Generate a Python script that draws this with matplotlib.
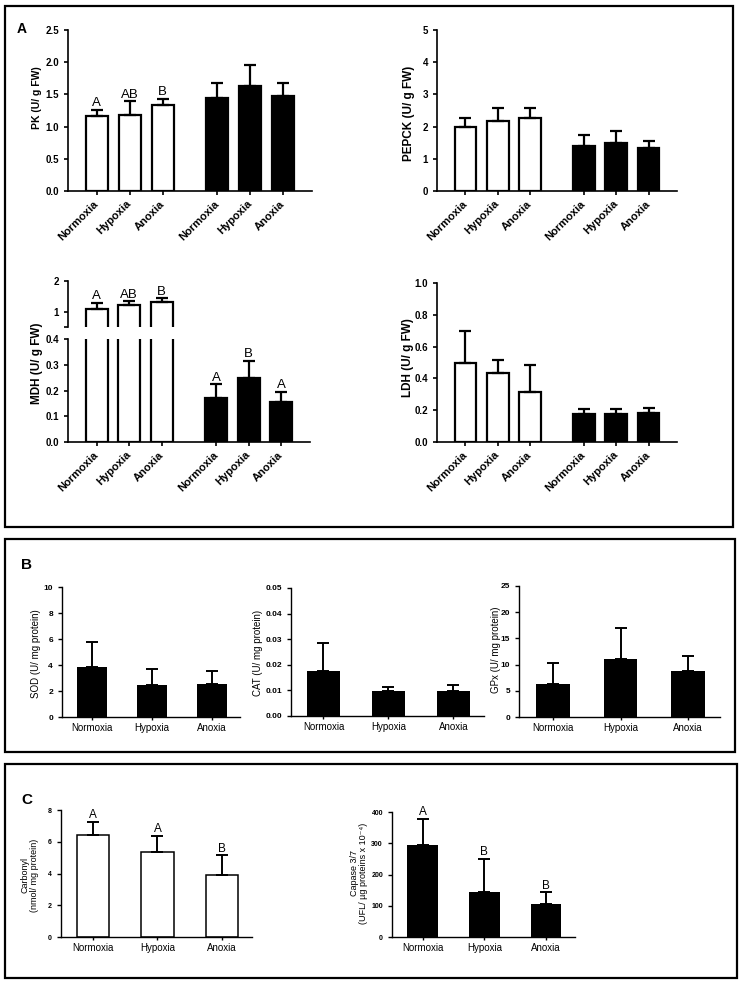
import matplotlib.pyplot as plt
import numpy as np
from matplotlib.patches import Rectangle

plt.rcParams['font.family'] = ['Liberation Sans', 'DejaVu Sans']

W, H = 743, 988

conditions = ['Normoxia', 'Hypoxia', 'Anoxia']

# panel A (white = first group, black = second group)
pk_white = [1.16, 1.18, 1.33]
pk_white_err = [0.10, 0.21, 0.10]
pk_black = [1.45, 1.63, 1.48]
pk_black_err = [0.23, 0.32, 0.20]
pk_letters = ['A', 'AB', 'B', '', '', '']

pepck_white = [1.99, 2.17, 2.28]
pepck_white_err = [0.28, 0.41, 0.30]
pepck_black = [1.40, 1.48, 1.33]
pepck_black_err = [0.35, 0.38, 0.22]

mdh_white = [1.09, 1.21, 1.31]
mdh_white_err = [0.19, 0.13, 0.12]
mdh_black = [0.172, 0.250, 0.157]
mdh_black_err = [0.052, 0.066, 0.038]
mdh_letters = ['A', 'AB', 'B', 'A', 'B', 'A']

ldh_white = [0.498, 0.432, 0.316]
ldh_white_err = [0.198, 0.082, 0.170]
ldh_black = [0.176, 0.176, 0.184]
ldh_black_err = [0.030, 0.030, 0.032]

# panel B
sod = [3.85, 2.47, 2.57]
sod_err = [1.92, 1.26, 0.96]
cat = [0.0176, 0.0097, 0.0097]
cat_err = [0.0111, 0.0017, 0.0026]
gpx = [6.24, 11.0, 8.84]
gpx_err = [4.13, 5.9, 2.8]

# panel C
carbonyl = [6.45, 5.33, 3.88]
carbonyl_err = [0.80, 1.05, 1.27]
carbonyl_letters = ['A', 'A', 'B']
caspase = [294, 143, 107]
caspase_err = [85, 106, 36]
caspase_letters = ['A', 'B', 'B']

fig = plt.figure(figsize=(W / 100, H / 100), dpi=100)


def px_axes(x0, y0, x1, y1):
    return fig.add_axes([x0 / W, 1 - y1 / H, (x1 - x0) / W, (y1 - y0) / H])


def px_text(x, y, s, **kw):
    fig.text(x / W, 1 - y / H, s, **kw)


def style(ax, lw=1.2):
    ax.spines[['top', 'right']].set_visible(False)
    for s in ['left', 'bottom']:
        ax.spines[s].set_linewidth(lw)
    ax.tick_params(direction='out', length=3, width=lw)
    ax.patch.set_alpha(0)


xa = np.array([0, 1, 2, 3.67, 4.67, 5.67])


def bars_a(ax, white, werr, black, berr, letters=None):
    vals = white + black
    errs = werr + berr
    colors = ['white'] * 3 + ['black'] * 3
    ax.bar(xa, vals, width=0.67, color=colors, edgecolor='black', linewidth=1.6)
    ax.errorbar(xa, vals, yerr=[np.zeros(6), errs], fmt='none', ecolor='black',
                elinewidth=1.6, capsize=4.2, capthick=1.6)
    if letters:
        for x, v, e, l in zip(xa, vals, errs, letters):
            ax.annotate(l, (x, v + e), xytext=(0, 0.5), textcoords='offset points',
                        ha='center', va='bottom', fontsize=9.5)
    ax.set_xlim(-0.88, 6.55)


def xlabels_a(ax):
    ax.set_xticks(xa)
    ax.set_xticklabels(conditions * 2, rotation=45, ha='right', va='center',
                       rotation_mode='anchor', fontsize=8, fontweight='bold')
    ax.tick_params(axis='x', pad=5)


def ylabels_a(ax, ticks, labels):
    ax.set_yticks(ticks)
    ax.set_yticklabels(labels, fontsize=7, fontweight='bold')


# ---- Panel A ----
ax = px_axes(68, 30, 312, 191)
style(ax)
bars_a(ax, pk_white, pk_white_err, pk_black, pk_black_err, pk_letters)
ax.set_ylim(0, 2.5)
ylabels_a(ax, [0, 0.5, 1, 1.5, 2, 2.5], ['0.0', '0.5', '1.0', '1.5', '2.0', '2.5'])
xlabels_a(ax)
px_text(37, 98, 'PK (U/ g FW)', rotation=90, ha='center', va='center', fontsize=7.5, fontweight='bold')

ax = px_axes(437, 30, 677, 191)
style(ax)
bars_a(ax, pepck_white, pepck_white_err, pepck_black, pepck_black_err)
ax.set_ylim(0, 5)
ylabels_a(ax, [0, 1, 2, 3, 4, 5], ['0', '1', '2', '3', '4', '5'])
xlabels_a(ax)
px_text(409, 113, 'PEPCK (U/ g FW)', rotation=90, ha='center', va='center', fontsize=8.5, fontweight='bold')

# MDH broken axis
ax_up = px_axes(68, 281, 310, 327)
style(ax_up)
ax_up.spines['bottom'].set_visible(False)
bars_a(ax_up, mdh_white, mdh_white_err, mdh_black, mdh_black_err, mdh_letters)
ax_up.set_ylim(0.5, 2)
ylabels_a(ax_up, [0.5, 1, 2], ['', '1', '2'])
ax_up.set_xticks([])

ax = px_axes(68, 339, 310, 442)
style(ax)
bars_a(ax, mdh_white, mdh_white_err, mdh_black, mdh_black_err, mdh_letters)
ax.set_ylim(0, 0.4)
ylabels_a(ax, [0, 0.1, 0.2, 0.3, 0.4], ['0.0', '0.1', '0.2', '0.3', '0.4'])
xlabels_a(ax)
px_text(37, 363, 'MDH (U/ g FW)', rotation=90, ha='center', va='center', fontsize=8.5, fontweight='bold')

ax = px_axes(437, 283, 677, 442)
style(ax)
bars_a(ax, ldh_white, ldh_white_err, ldh_black, ldh_black_err)
ax.set_ylim(0, 1.0)
ylabels_a(ax, [0, 0.2, 0.4, 0.6, 0.8, 1.0], ['0.0', '0.2', '0.4', '0.6', '0.8', '1.0'])
xlabels_a(ax)
px_text(408, 358, 'LDH (U/ g FW)', rotation=90, ha='center', va='center', fontsize=8.5, fontweight='bold')


# ---- Panels B and C ----
def bars_simple(ax, vals, errs, color, width, lw, letters=None):
    x = np.arange(3)
    ax.bar(x, vals, width=width, color=color, edgecolor='black', linewidth=lw)
    ax.errorbar(x, vals, yerr=[np.zeros(3), errs], fmt='none', ecolor='black',
                elinewidth=1.4, capsize=4.5, capthick=1.4)
    if letters:
        for xi, v, e, l in zip(x, vals, errs, letters):
            ax.annotate(l, (xi, v + e), xytext=(0, 0.5), textcoords='offset points',
                        ha='center', va='bottom', fontsize=8.5)
    ax.set_xlim(-0.5, 2.47)
    ax.set_xticks(x)
    ax.set_xticklabels(conditions, fontsize=7)
    ax.tick_params(axis='x', length=2.5, pad=2)


ax = px_axes(62, 587, 240, 717)
style(ax, 1.0)
bars_simple(ax, sod, sod_err, 'black', 0.5, 0)
ax.set_ylim(0, 10)
ax.set_yticks([0, 2, 4, 6, 8, 10])
ax.set_yticklabels(['0', '2', '4', '6', '8', '10'], fontsize=6, fontweight='bold')
px_text(36, 654, 'SOD (U/ mg protein)', rotation=90, ha='center', va='center', fontsize=7)

ax = px_axes(291, 588, 484, 716)
style(ax, 1.0)
bars_simple(ax, cat, cat_err, 'black', 0.52, 0)
ax.set_ylim(0, 0.05)
ax.set_yticks([0, 0.01, 0.02, 0.03, 0.04, 0.05])
ax.set_yticklabels(['0.00', '0.01', '0.02', '0.03', '0.04', '0.05'], fontsize=6, fontweight='bold')
px_text(258, 653, 'CAT (U/ mg protein)', rotation=90, ha='center', va='center', fontsize=7)

ax = px_axes(519, 586, 720, 717)
style(ax, 1.0)
bars_simple(ax, gpx, gpx_err, 'black', 0.5, 0)
ax.set_ylim(0, 25)
ax.set_yticks([0, 5, 10, 15, 20, 25])
ax.set_yticklabels(['0', '5', '10', '15', '20', '25'], fontsize=6, fontweight='bold')
px_text(496, 650, 'GPx (U/ mg protein)', rotation=90, ha='center', va='center', fontsize=7)

ax = px_axes(61, 810, 252, 937)
style(ax, 1.0)
bars_simple(ax, carbonyl, carbonyl_err, 'white', 0.5, 1.1, carbonyl_letters)
ax.set_ylim(0, 8)
ax.set_yticks([0, 2, 4, 6, 8])
ax.set_yticklabels(['0', '2', '4', '6', '8'], fontsize=5, fontweight='bold')
px_text(30, 875, 'Carbonyl\n(nmol/ mg protein)', rotation=90, ha='center', va='center',
        fontsize=6.5, linespacing=1.1)

ax = px_axes(392, 812, 575, 937)
style(ax, 1.0)
bars_simple(ax, caspase, caspase_err, 'black', 0.5, 0, caspase_letters)
ax.set_ylim(0, 400)
ax.set_yticks([0, 100, 200, 300, 400])
ax.set_yticklabels(['0', '100', '200', '300', '400'], fontsize=5, fontweight='bold')
px_text(359, 873, 'Capase 3/7\n(UFL/ µg proteins x 10⁻⁴)', rotation=90, ha='center', va='center',
        fontsize=6.5, linespacing=1.1)

# panel frames and letters
for x0, y0, x1, y1 in [(5, 6, 733, 527), (5, 539, 735, 752), (5, 764, 737, 978)]:
    fig.add_artist(Rectangle((x0 / W, 1 - y1 / H), (x1 - x0) / W, (y1 - y0) / H,
                             transform=fig.transFigure, fill=False, edgecolor='black', linewidth=1.6))

px_text(22, 29, 'A', ha='center', va='center', fontsize=10, fontweight='bold')
px_text(27, 565, 'B', ha='center', va='center', fontsize=11, fontweight='bold')
px_text(27, 800, 'C', ha='center', va='center', fontsize=11, fontweight='bold')

fig.savefig('out.png', dpi=100)
